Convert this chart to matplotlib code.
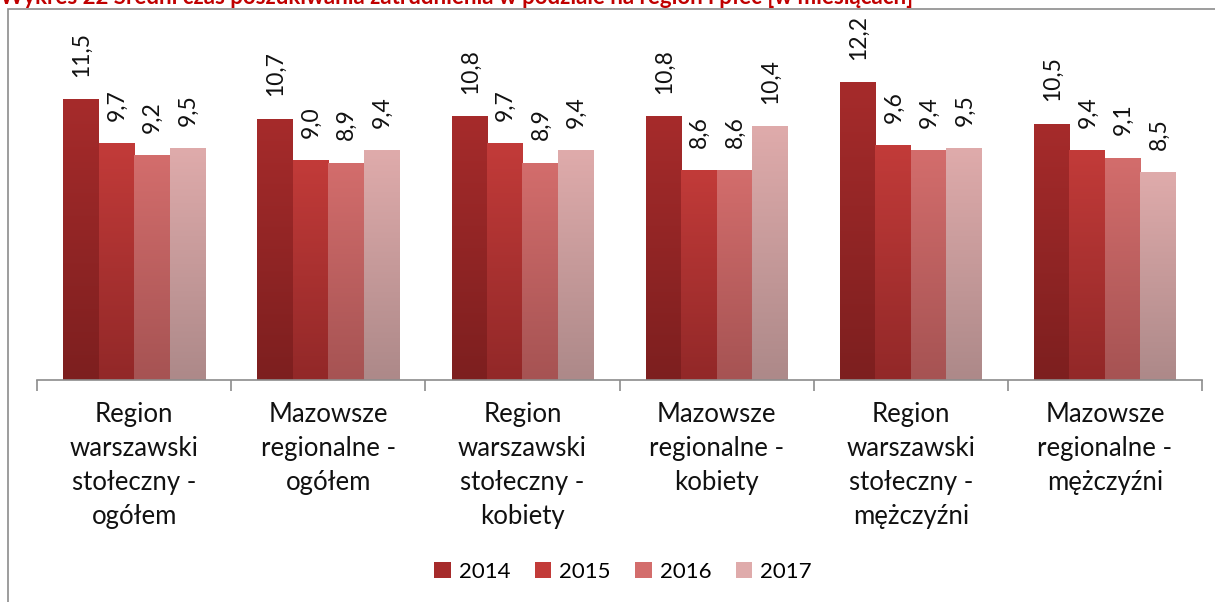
import numpy as np
import matplotlib.pyplot as plt
from matplotlib.colors import LinearSegmentedColormap
from matplotlib.patches import Rectangle, Patch

categories = ["Region\nwarszawski\nstołeczny -\nogółem",
              "Mazowsze\nregionalne -\nogółem",
              "Region\nwarszawski\nstołeczny -\nkobiety",
              "Mazowsze\nregionalne -\nkobiety",
              "Region\nwarszawski\nstołeczny -\nmężczyźni",
              "Mazowsze\nregionalne -\nmężczyźni"]
years = ["2014", "2015", "2016", "2017"]
v2014 = [11.5, 10.7, 10.8, 10.8, 12.2, 10.5]
v2015 = [9.7, 9.0, 9.7, 8.6, 9.6, 9.4]
v2016 = [9.2, 8.9, 8.9, 8.6, 9.4, 9.1]
v2017 = [9.5, 9.4, 9.4, 10.4, 9.5, 8.5]
series = [v2014, v2015, v2016, v2017]

# (top, bottom) gradient colours per year
grad = [("#a62b2b", "#7d1f1f"),
        ("#c23b39", "#922828"),
        ("#d36d6c", "#a65353"),
        ("#dfabab", "#ad8989")]

plt.rcParams['font.family'] = ['Lato', 'DejaVu Sans']

fig = plt.figure(figsize=(12.15, 6.02), dpi=100)
ax = fig.add_axes([37/1215, 1-380/602, (1202-37)/1215, (380-38)/602])

# outer chart frame
fig.patches.append(Rectangle((8/1215, -0.05), 1.1, 1-9/602+0.05, transform=fig.transFigure,
                             fill=False, edgecolor="#8c8c8c", lw=1.2))
# title is cut at the top edge, as in the source image
fig.text(0.0, 1-4/602, "Wykres 22 Średni czas poszukiwania zatrudnienia w podziale na region i płeć [w miesiącach]",
         color="#c00000", fontsize=16, fontweight="bold", va="baseline", ha="left")

x = np.arange(len(categories))
w = 0.73 / 4
for i, vals in enumerate(series):
    pos = x - 0.365 + w * (i + 0.5)
    bars = ax.bar(pos, vals, width=w, color=grad[i][0], edgecolor="none")
    cmap = LinearSegmentedColormap.from_list("g%d" % i, [grad[i][1], grad[i][0]])
    for b, v in zip(bars, vals):
        x0, h = b.get_x(), b.get_height()
        im = ax.imshow(np.linspace(0, 1, 100).reshape(-1, 1), cmap=cmap, origin="lower",
                       extent=(x0, x0 + b.get_width(), 0, h), aspect="auto", zorder=2)
        im.set_clip_path(b)
        ax.annotate(("%.1f" % v).replace(".", ","), (b.get_x() + b.get_width()/2, h),
                    xytext=(0.5, 16), textcoords="offset points", rotation=90,
                    ha="center", va="bottom", fontsize=16.5, color="#111111")

ax.set_xlim(-0.5, len(categories) - 0.5)
ax.set_ylim(0, 14)
ax.set_yticks([])
for s in ["top", "right", "left"]:
    ax.spines[s].set_visible(False)
ax.spines["bottom"].set_color("#8c8c8c")
ax.spines["bottom"].set_linewidth(1.2)
ax.set_xticks(np.arange(-0.5, len(categories)), minor=False)
ax.set_xticklabels([])
ax.tick_params(axis="x", length=8, color="#8c8c8c", width=1.2)
for xi, c in zip(x, categories):
    ax.text(xi, -0.9, c, ha="center", va="top", fontsize=18.5, linespacing=1.45,
            color="#111111")

handles = [Patch(facecolor=grad[i][0], label=years[i]) for i in range(4)]
fig.legend(handles=handles, loc="center", bbox_to_anchor=(623/1215, 1-572/602), ncol=4,
           frameon=False, fontsize=16, handlelength=0.75, handleheight=0.75,
           handletextpad=0.35, columnspacing=1.1)

fig.savefig("out.png", dpi=100)
